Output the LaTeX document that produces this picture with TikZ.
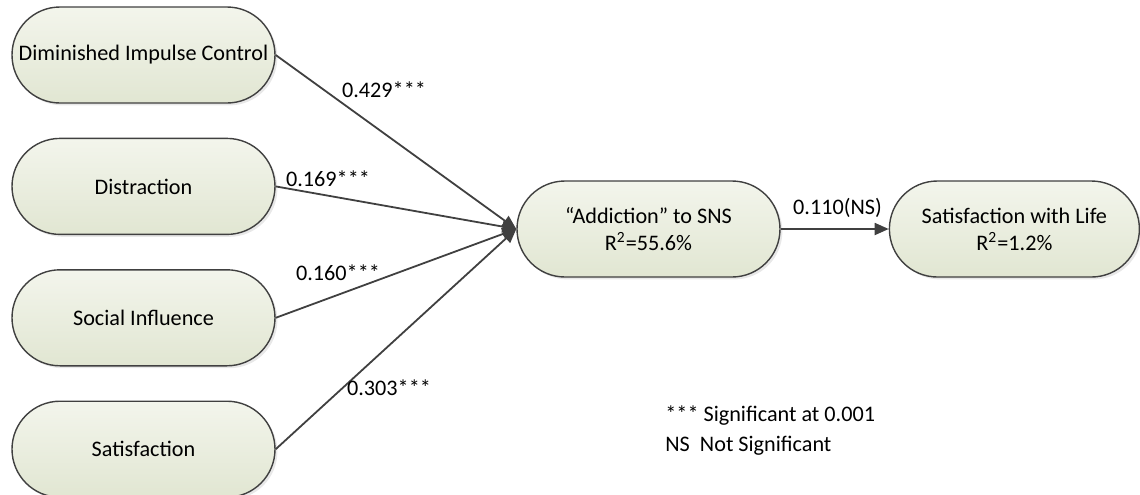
\documentclass[tikz,border=0pt]{standalone}
\usepackage{fontspec}
\setmainfont{Carlito}
\usetikzlibrary{positioning,arrows.meta,shadows}
\definecolor{nodetop}{RGB}{243,245,236}
\definecolor{nodebottom}{RGB}{225,230,210}
\definecolor{linegray}{RGB}{64,64,64}

\begin{document}
\begin{tikzpicture}[x=0.5pt, y=-0.5pt, node distance=17pt,
    font=\fontsize{11.1}{13.5}\selectfont,
    construct/.style={draw=linegray, line width=0.7pt, rounded corners=24pt,
      minimum width=131.5pt, minimum height=48pt, inner sep=0pt, align=center,
      top color=nodetop, bottom color=nodebottom,
      drop shadow={shadow xshift=1.2pt, shadow yshift=-1.2pt, opacity=0.3, fill=gray!60}},
    link/.style={draw=linegray, line width=0.9pt, -{Triangle[length=7pt, width=6pt]}},
    coef/.style={inner sep=0pt}]
    \useasboundingbox (0,0) rectangle (1140,494);

    % antecedents
    \node [construct] (dic) at (143.5,55) {Diminished Impulse Control};
    \node [construct, below=of dic] (dis) {Distraction};
    \node [construct, below=of dis] (soc) {Social Influence};
    \node [construct, below=of soc] (sat) {Satisfaction};

    % outcomes
    \node [construct] (sns) at (648.5,229) {``Addiction'' to SNS\\R\textsuperscript{2}=55.6\%};
    \node [construct, minimum width=125pt, right=54pt of sns] (swl) {Satisfaction with Life\\R\textsuperscript{2}=1.2\%};

    \draw [link] (dic.east) -- (sns.west);
    \draw [link] (dis.east) -- (sns.west);
    \draw [link] (soc.east) -- (sns.west);
    \draw [link] (sat.east) -- (sns.west);
    \draw [link] (sns.east) -- (swl.west);

    % path coefficients
    \node [coef] (c1) at (384,90) {0.429***};
    \node [coef] (c2) at (328,179) {0.169***};
    \node [coef] (c3) at (338,273) {0.160***};
    \node [coef] (c4) at (389,388) {0.303***};
    \node [coef] (c5) at (837.5,208) {0.110(NS)};

    % legend
    \node [coef, anchor=west] (key1) at (665,416) {*** Significant at 0.001};
    \node [coef, anchor=west] (key2) at (665,446) {NS\ \ Not Significant};
\end{tikzpicture}
\end{document}
